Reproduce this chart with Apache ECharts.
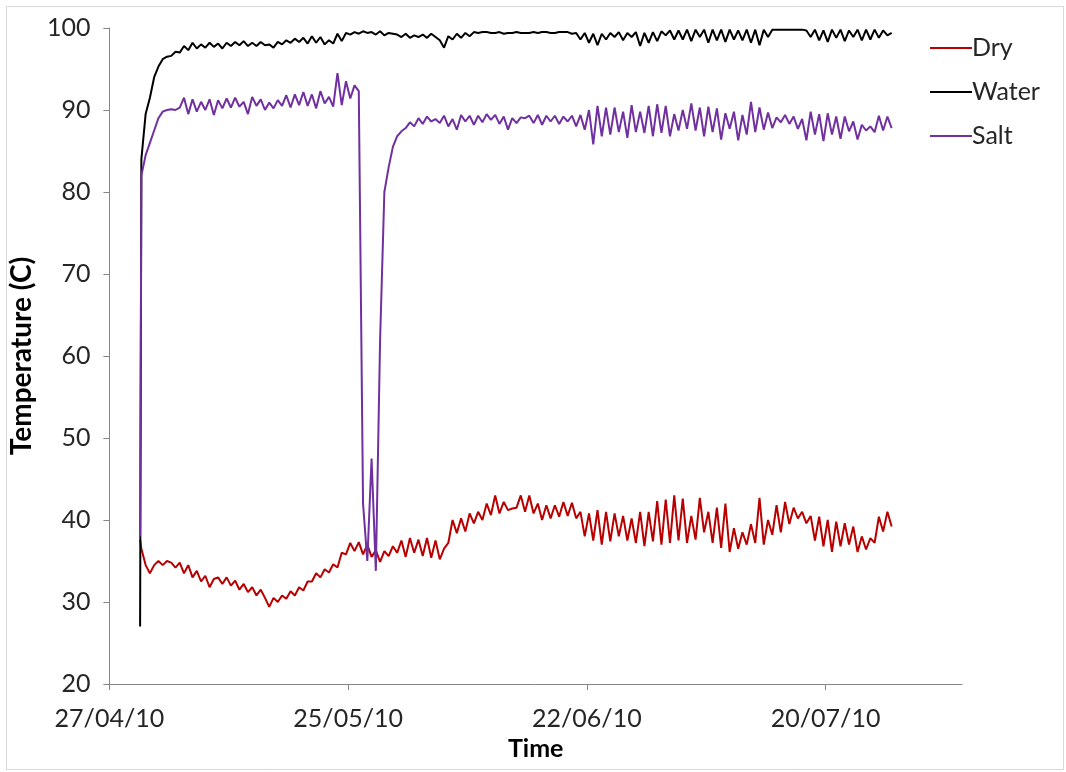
<!DOCTYPE html>
<html>
<head>
<meta charset="utf-8">
<script src="https://cdn.jsdelivr.net/npm/echarts@6/dist/echarts.min.js"></script>
<style>
html,body{margin:0;padding:0;background:#fff;}
#chart{width:1066px;height:772px;}
</style>
</head>
<body>
<div id="chart"></div>
<script>
// x positions are days after 27/04/10
const tickLabels = ['27/04/10', '25/05/10', '22/06/10', '20/07/10'];
const tickDays = [0, 28, 56, 84];
const seriesNames = ['Dry', 'Water', 'Salt'];

// first reading (day 3.6), then half-day readings starting at day 3.75
const firstDay = 3.6;
const gridStart = 3.75;
const gridStep = 0.5;

const dryFirst = 37.6;
const dryVals = [
  36.5, 34.5, 33.5, 34.5, 35, 34.5, 35, 34.8, 34.2, 34.8,
  33.5, 34.5, 33, 33.8, 32.5, 33.2, 31.8, 32.8, 33, 32.2,
  33, 32, 32.6, 31.5, 32.2, 31.2, 31.8, 30.8, 31.5, 30.5,
  29.4, 30.5, 30, 30.8, 30.4, 31.3, 30.8, 31.8, 31.4, 32.5,
  32.5, 33.5, 33, 34, 33.6, 34.6, 34.2, 36, 35.8, 37.2,
  36.2, 37.3, 35.8, 37, 35.5, 36.3, 34.9, 36.2, 35.6, 36.8,
  36, 37.5, 35.5, 37.8, 36, 37.6, 35.6, 37.8, 35.4, 37.5,
  35.2, 36.5, 37.2, 40, 38.4, 40.2, 38.6, 40.8, 39.6, 41,
  40, 42, 40.6, 43, 40.8, 42.2, 41.2, 41.4, 41.5, 43,
  41, 43, 40.8, 42, 40, 41.8, 40.2, 41.8, 40.4, 42.2,
  40.5, 42.1, 40.2, 41, 38, 40.8, 37.5, 41.2, 37, 41,
  37.4, 40.8, 38, 40.5, 37.5, 40.2, 37.2, 41, 36.8, 41,
  37.4, 42.3, 37, 42.5, 37.2, 43, 37.5, 42.6, 37.2, 40.5,
  37.6, 42.7, 38.5, 41, 37.2, 41.5, 36.6, 42, 36.1, 39,
  36.5, 38.5, 37, 39.5, 37.2, 42.7, 37, 40, 38.2, 41.8,
  38.5, 42.2, 39.5, 41.5, 40.2, 41, 39.6, 40.5, 37.5, 40.4,
  36.8, 40, 36.1, 39.8, 36.8, 39.6, 37, 39.2, 36.1, 38,
  36.4, 37.8, 37.2, 40.4, 38.6, 41, 39.2
];

const waterFirst = 27;
const waterVals = [
  84, 89.5, 91.5, 94, 95.3, 96.2, 96.5, 96.6, 97.1, 97,
  97.8, 97.3, 98.2, 97.5, 98, 97.6, 98.2, 97.7, 98.1, 97.5,
  98.2, 97.8, 98.3, 97.9, 98.4, 97.8, 98.2, 97.8, 98.3, 97.9,
  98, 97.6, 98.3, 98, 98.5, 98.2, 98.7, 98.3, 98.8, 98.1,
  99, 98.2, 98.9, 98, 98.5, 98.1, 99.3, 98.4, 99.4, 99.2,
  99.5, 99.3, 99.6, 99.4, 99.5, 99.2, 99.6, 99.1, 99.4, 99.3,
  99.2, 98.9, 99.3, 98.8, 99.1, 98.9, 99.2, 98.8, 99.3, 98.9,
  98.5, 97.6, 99, 98.6, 99.3, 98.8, 99.4, 99, 99.5, 99.4,
  99.5, 99.5, 99.4, 99.4, 99.5, 99.3, 99.4, 99.4, 99.5, 99.4,
  99.4, 99.4, 99.5, 99.4, 99.5, 99.5, 99.4, 99.4, 99.5, 99.5,
  99.5, 99.3, 99.4, 98.6, 99.4, 98.2, 99.3, 97.9, 99.3, 98.6,
  99.4, 98.9, 99.5, 98.5, 99.4, 98.9, 99.5, 97.8, 99.4, 98.2,
  99.5, 98.4, 99.6, 99.1, 99.7, 98.6, 99.7, 98.6, 99.8, 98.4,
  99.8, 98.9, 99.8, 98.2, 99.8, 98.5, 99.8, 98.3, 99.8, 98.6,
  99.7, 98.5, 99.8, 98.2, 99.8, 97.9, 99.8, 98.9, 99.8, 99.8,
  99.8, 99.8, 99.8, 99.8, 99.8, 99.8, 99.7, 98.9, 99.8, 98.5,
  99.7, 98.3, 99.8, 98.8, 99.8, 98.4, 99.7, 98.9, 99.8, 98.5,
  99.8, 98.6, 99.8, 98.8, 99.7, 99.1, 99.4
];

const saltFirst = 38;
const saltVals = [
  82, 84.5, 86, 87.5, 89, 89.8, 90, 90.1, 90, 90.3,
  91.5, 89.5, 91.3, 89.8, 91, 90, 91.3, 89.4, 91.2, 90.2,
  91.4, 90.3, 91.5, 90.4, 91, 89.5, 91.6, 90.5, 91.3, 90,
  90.9, 90.2, 91.2, 90.5, 91.8, 90.3, 91.9, 90.6, 92.2, 90.5,
  91.9, 90.2, 92.3, 90.8, 91.6, 90.4, 94.5, 90.6, 93.5, 91.4,
  93, 92.3, 42, 35, 47.5, 33.8, 62, 80, 83, 85.5,
  86.8, 87.4, 87.8, 88.5, 88, 89, 88.3, 89.2, 88.6, 88.9,
  88.4, 89.3, 88, 88.9, 87.6, 89.4, 88.6, 89.3, 88.2, 89.3,
  88.5, 89.5, 88.8, 89.4, 88.3, 89.2, 87.6, 89, 88.4, 89.1,
  89, 89.3, 88.4, 89.4, 88.2, 89.3, 88.6, 89.3, 88.3, 89.2,
  88.6, 89.3, 88, 89.4, 87.6, 90, 85.8, 90.5, 86.8, 90.3,
  87, 90.3, 87.3, 89.8, 86.6, 90.6, 87.3, 89.8, 87.2, 90.5,
  86.8, 90.7, 87.2, 90.5, 86.8, 89.5, 87.5, 90, 87.7, 90.8,
  87.5, 90.3, 86.8, 90.4, 87.3, 90.2, 86.4, 89.6, 87.7, 89.8,
  86.3, 89.4, 87, 91, 87.3, 90.3, 87.6, 89.7, 87.8, 89.1,
  88.5, 89.4, 88.3, 89.2, 87.7, 88.9, 86.3, 89.8, 87, 89.5,
  86.2, 89.6, 87, 89.2, 86.5, 89.2, 87.4, 88.6, 86.4, 88.2,
  87.5, 88, 87.3, 89.3, 87.5, 89.2, 87.8
];

function toPoints(first, vals) {
  const pts = [[firstDay, first]];
  vals.forEach((v, i) => pts.push([gridStart + i * gridStep, v]));
  return pts;
}

const FONT = 'Lato, "Liberation Sans", sans-serif';
const colors = ['#b80000', '#000000', '#7030a0'];

const chart = echarts.init(document.getElementById('chart'), null, {renderer: 'canvas'});
chart.setOption({
  animation: false,
  backgroundColor: '#ffffff',
  color: colors,
  textStyle: {fontFamily: FONT},
  graphic: [{
    type: 'rect', left: 4, top: 4, z: -1,
    shape: {width: 1057, height: 763},
    style: {fill: 'none', stroke: '#d9d9d9', lineWidth: 1}
  }],
  grid: {left: 106, top: 28, right: 104, bottom: 88, containLabel: false},
  legend: {
    orient: 'vertical',
    left: 925, top: 28,
    itemWidth: 42, itemHeight: 2, itemGap: 14,
    icon: 'rect',
    data: seriesNames,
    textStyle: {fontFamily: FONT, fontSize: 25, lineHeight: 30, color: '#262626', padding: [0, 0, 0, -5]}
  },
  xAxis: {
    type: 'value', min: 0, max: 100, interval: 28,
    name: 'Time', nameLocation: 'middle', nameGap: 52,
    nameTextStyle: {fontFamily: FONT, fontSize: 25, fontWeight: 'bold', color: '#000'},
    axisLine: {show: true, lineStyle: {color: '#868686', width: 1}},
    axisTick: {show: true, length: 6, customValues: tickDays, lineStyle: {color: '#868686'}},
    axisLabel: {
      customValues: tickDays, margin: 22, fontFamily: FONT, fontSize: 25, color: '#262626',
      formatter: v => { const i = tickDays.indexOf(v); return i >= 0 ? tickLabels[i] : ''; }
    },
    splitLine: {show: false}
  },
  yAxis: {
    type: 'value', min: 20, max: 100, interval: 10,
    name: 'Temperature (C)', nameLocation: 'middle', nameGap: 63, nameRotate: 90,
    nameTextStyle: {fontFamily: FONT, fontSize: 28, fontWeight: 'bold', color: '#000'},
    axisLine: {show: true, lineStyle: {color: '#868686', width: 1}},
    axisTick: {show: true, length: 6, lineStyle: {color: '#868686'}},
    axisLabel: {margin: 19, fontFamily: FONT, fontSize: 25, color: '#262626'},
    splitLine: {show: false}
  },
  series: [
    {name: seriesNames[0], type: 'line', data: toPoints(dryFirst, dryVals), showSymbol: false, symbol: 'none', lineStyle: {width: 2}},
    {name: seriesNames[1], type: 'line', data: toPoints(waterFirst, waterVals), showSymbol: false, symbol: 'none', lineStyle: {width: 2}},
    {name: seriesNames[2], type: 'line', data: toPoints(saltFirst, saltVals), showSymbol: false, symbol: 'none', lineStyle: {width: 2}}
  ]
});
</script>
</body>
</html>
